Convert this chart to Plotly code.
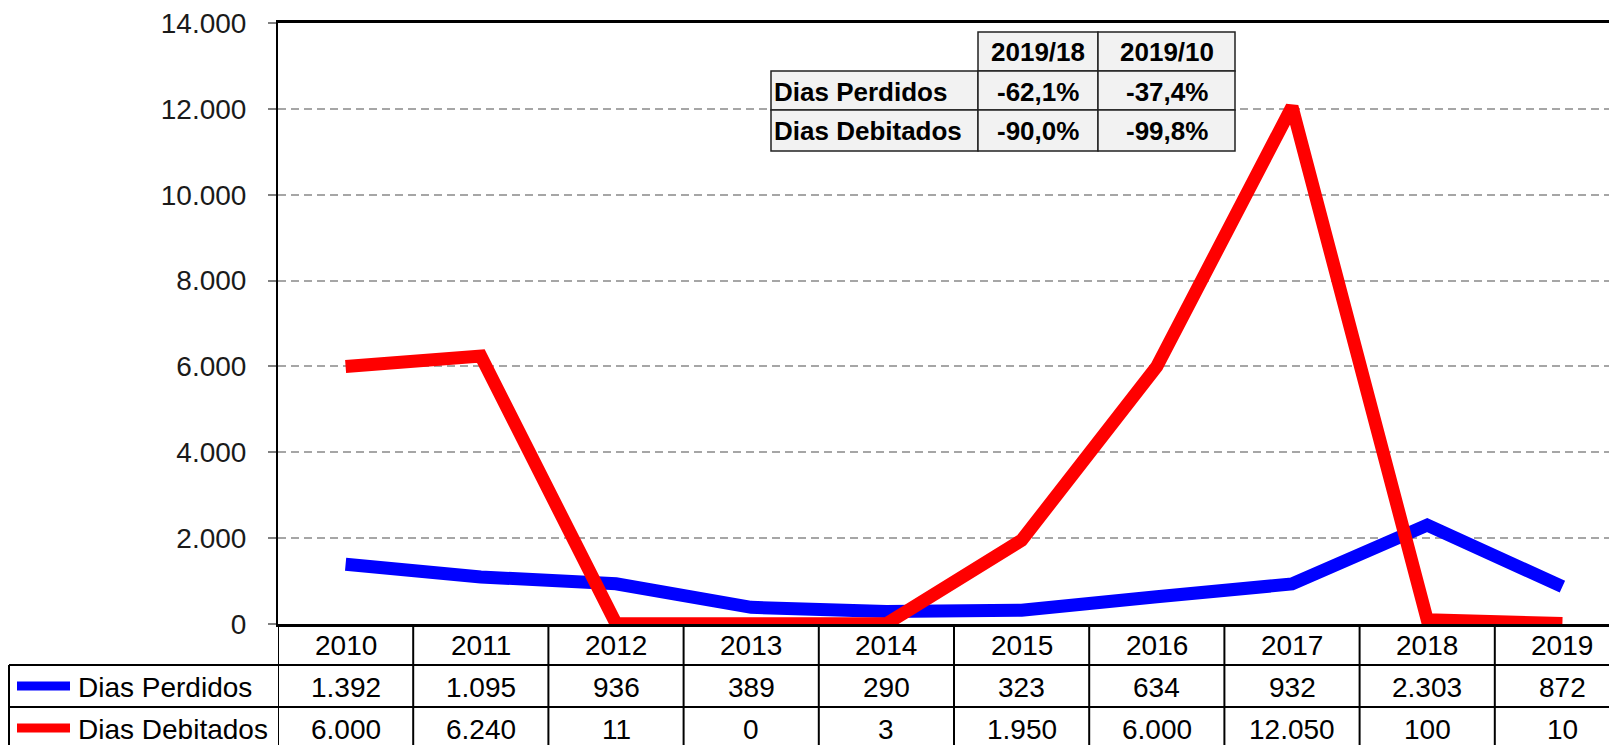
import plotly.graph_objects as go

# ---------------- data ----------------
years = [2010, 2011, 2012, 2013, 2014, 2015, 2016, 2017, 2018, 2019]
dias_perdidos = [1392, 1095, 936, 389, 290, 323, 634, 932, 2303, 872]
dias_debitados = [6000, 6240, 11, 0, 3, 1950, 6000, 12050, 100, 10]
series_names = ["Dias Perdidos", "Dias Debitados"]
series_colors = ["#0000FF", "#FF0000"]

inset_cols = ["2019/18", "2019/10"]
inset_rows = ["Dias Perdidos", "Dias Debitados"]
inset_vals = [["-62,1%", "-37,4%"], ["-90,0%", "-99,8%"]]

y_ticks = [0, 2000, 4000, 6000, 8000, 10000, 12000, 14000]

# ---------------- layout geometry (window pixels) ----------------
OFF = 8                      # default page body margin
W, H = 1617 - OFF, 745 - OFF
L = 278 - OFF
T = 23 - OFF
BOT = 624 - OFF
B = H - BOT
PW = W - L
PH = H - T - B
COLW = 135.2
FONT = "Liberation Sans, Arial, sans-serif"


def px_x(p):
    return (p - OFF - L) / PW


def px_y(p):
    return (BOT - (p - OFF)) / PH


def fmt(v):
    return f"{v:,}".replace(",", ".")


fig = go.Figure()
for name, vals, col in zip(series_names, [dias_perdidos, dias_debitados], series_colors):
    fig.add_trace(go.Scatter(x=years, y=vals, mode="lines", name=name,
                             line=dict(color=col, width=13), showlegend=False))

x0 = years[0] - 0.5
x1 = x0 + PW / COLW

shapes = []
annotations = []

row_top = 624
row1 = 665
row2 = 707
row3 = 749
line_col = "#000000"

for yy in (row1, row2):
    shapes.append(dict(type="line", xref="paper", yref="paper",
                       x0=px_x(9), x1=1.02, y0=px_y(yy), y1=px_y(yy),
                       line=dict(color=line_col, width=2)))
shapes.append(dict(type="line", xref="paper", yref="paper",
                   x0=px_x(9), x1=px_x(9), y0=px_y(row1), y1=px_y(row3),
                   line=dict(color=line_col, width=2)))
for i in range(len(years) + 1):
    xv = years[0] - 0.5 + i
    shapes.append(dict(type="line", xref="x", yref="paper",
                       x0=xv, x1=xv, y0=0, y1=px_y(row3),
                       line=dict(color=line_col, width=2)))

rows_y = [(row_top + row1) / 2 + 1, (row1 + row2) / 2 + 1, (row2 + row3) / 2 + 1]
tfont = dict(family=FONT, size=28, color="#000")
for i, yr in enumerate(years):
    for r, txt in enumerate([str(yr), fmt(dias_perdidos[i]), fmt(dias_debitados[i])]):
        annotations.append(dict(x=yr, y=px_y(rows_y[r]), xref="x", yref="paper",
                                xanchor="center", yanchor="middle",
                                text=txt, showarrow=False, font=tfont))

for k, (name, col) in enumerate(zip(series_names, series_colors)):
    yc = (row1 + row2) / 2 if k == 0 else (row2 + row3) / 2
    shapes.append(dict(type="line", xref="paper", yref="paper",
                       x0=px_x(17), x1=px_x(70), y0=px_y(yc), y1=px_y(yc),
                       line=dict(color=col, width=9)))
    annotations.append(dict(x=px_x(76), y=px_y(yc + 1), xref="paper", yref="paper",
                            xanchor="left", yanchor="middle", text=name, showarrow=False,
                            font=tfont))

# inset table
ix = [771, 978, 1098, 1235]
iy = [32, 71, 110, 151]
fill = "#F2F2F2"
ilc = "#222222"
bfont = dict(family=FONT, size=26, color="#000")
for c in range(2):
    shapes.append(dict(type="rect", xref="paper", yref="paper",
                       x0=px_x(ix[c + 1]), x1=px_x(ix[c + 2]),
                       y0=px_y(iy[0]), y1=px_y(iy[1]),
                       fillcolor=fill, line=dict(color=ilc, width=1.5)))
    annotations.append(dict(x=px_x((ix[c + 1] + ix[c + 2]) / 2), y=px_y((iy[0] + iy[1]) / 2 + 1),
                            xref="paper", yref="paper", xanchor="center", yanchor="middle",
                            text="<b>%s</b>" % inset_cols[c], showarrow=False, font=bfont))
for r in range(2):
    for c in range(3):
        shapes.append(dict(type="rect", xref="paper", yref="paper",
                           x0=px_x(ix[c]), x1=px_x(ix[c + 1]),
                           y0=px_y(iy[r + 1]), y1=px_y(iy[r + 2]),
                           fillcolor=fill, line=dict(color=ilc, width=1.5)))
    yc = (iy[r + 1] + iy[r + 2]) / 2 + 1
    annotations.append(dict(x=px_x(ix[0] + 1), y=px_y(yc), xref="paper", yref="paper",
                            xanchor="left", yanchor="middle",
                            text="<b>%s</b>" % inset_rows[r], showarrow=False, font=bfont))
    for c in range(2):
        annotations.append(dict(x=px_x((ix[c + 1] + ix[c + 2]) / 2), y=px_y(yc),
                                xref="paper", yref="paper", xanchor="center", yanchor="middle",
                                text="<b>%s</b>" % inset_vals[r][c],
                                showarrow=False, font=bfont))

fig.update_layout(
    width=W, height=H,
    margin=dict(l=L, r=0, t=T, b=B, pad=0),
    paper_bgcolor="white", plot_bgcolor="white",
    separators=",.",
    showlegend=False,
    shapes=shapes,
    annotations=annotations,
    xaxis=dict(range=[x0, x1], showticklabels=False, ticks="", showgrid=False,
               zeroline=False, showline=True, linecolor="#000", linewidth=2.5, mirror=True),
    yaxis=dict(range=[0, 14000], tickvals=y_ticks, tickformat=",.0f",
               showgrid=True, gridcolor="#A6A6A6", gridwidth=2, griddash="8px,5px",
               zeroline=False, showline=True, linecolor="#000", linewidth=2,
               ticks="outside", ticklen=8, tickcolor="#808080", tickwidth=1.5,
               ticklabelstandoff=16, ticklabeloverflow="allow",
               tickfont=dict(family=FONT, size=28, color="#1a1a1a")),
)

fig.write_html("out.html")
